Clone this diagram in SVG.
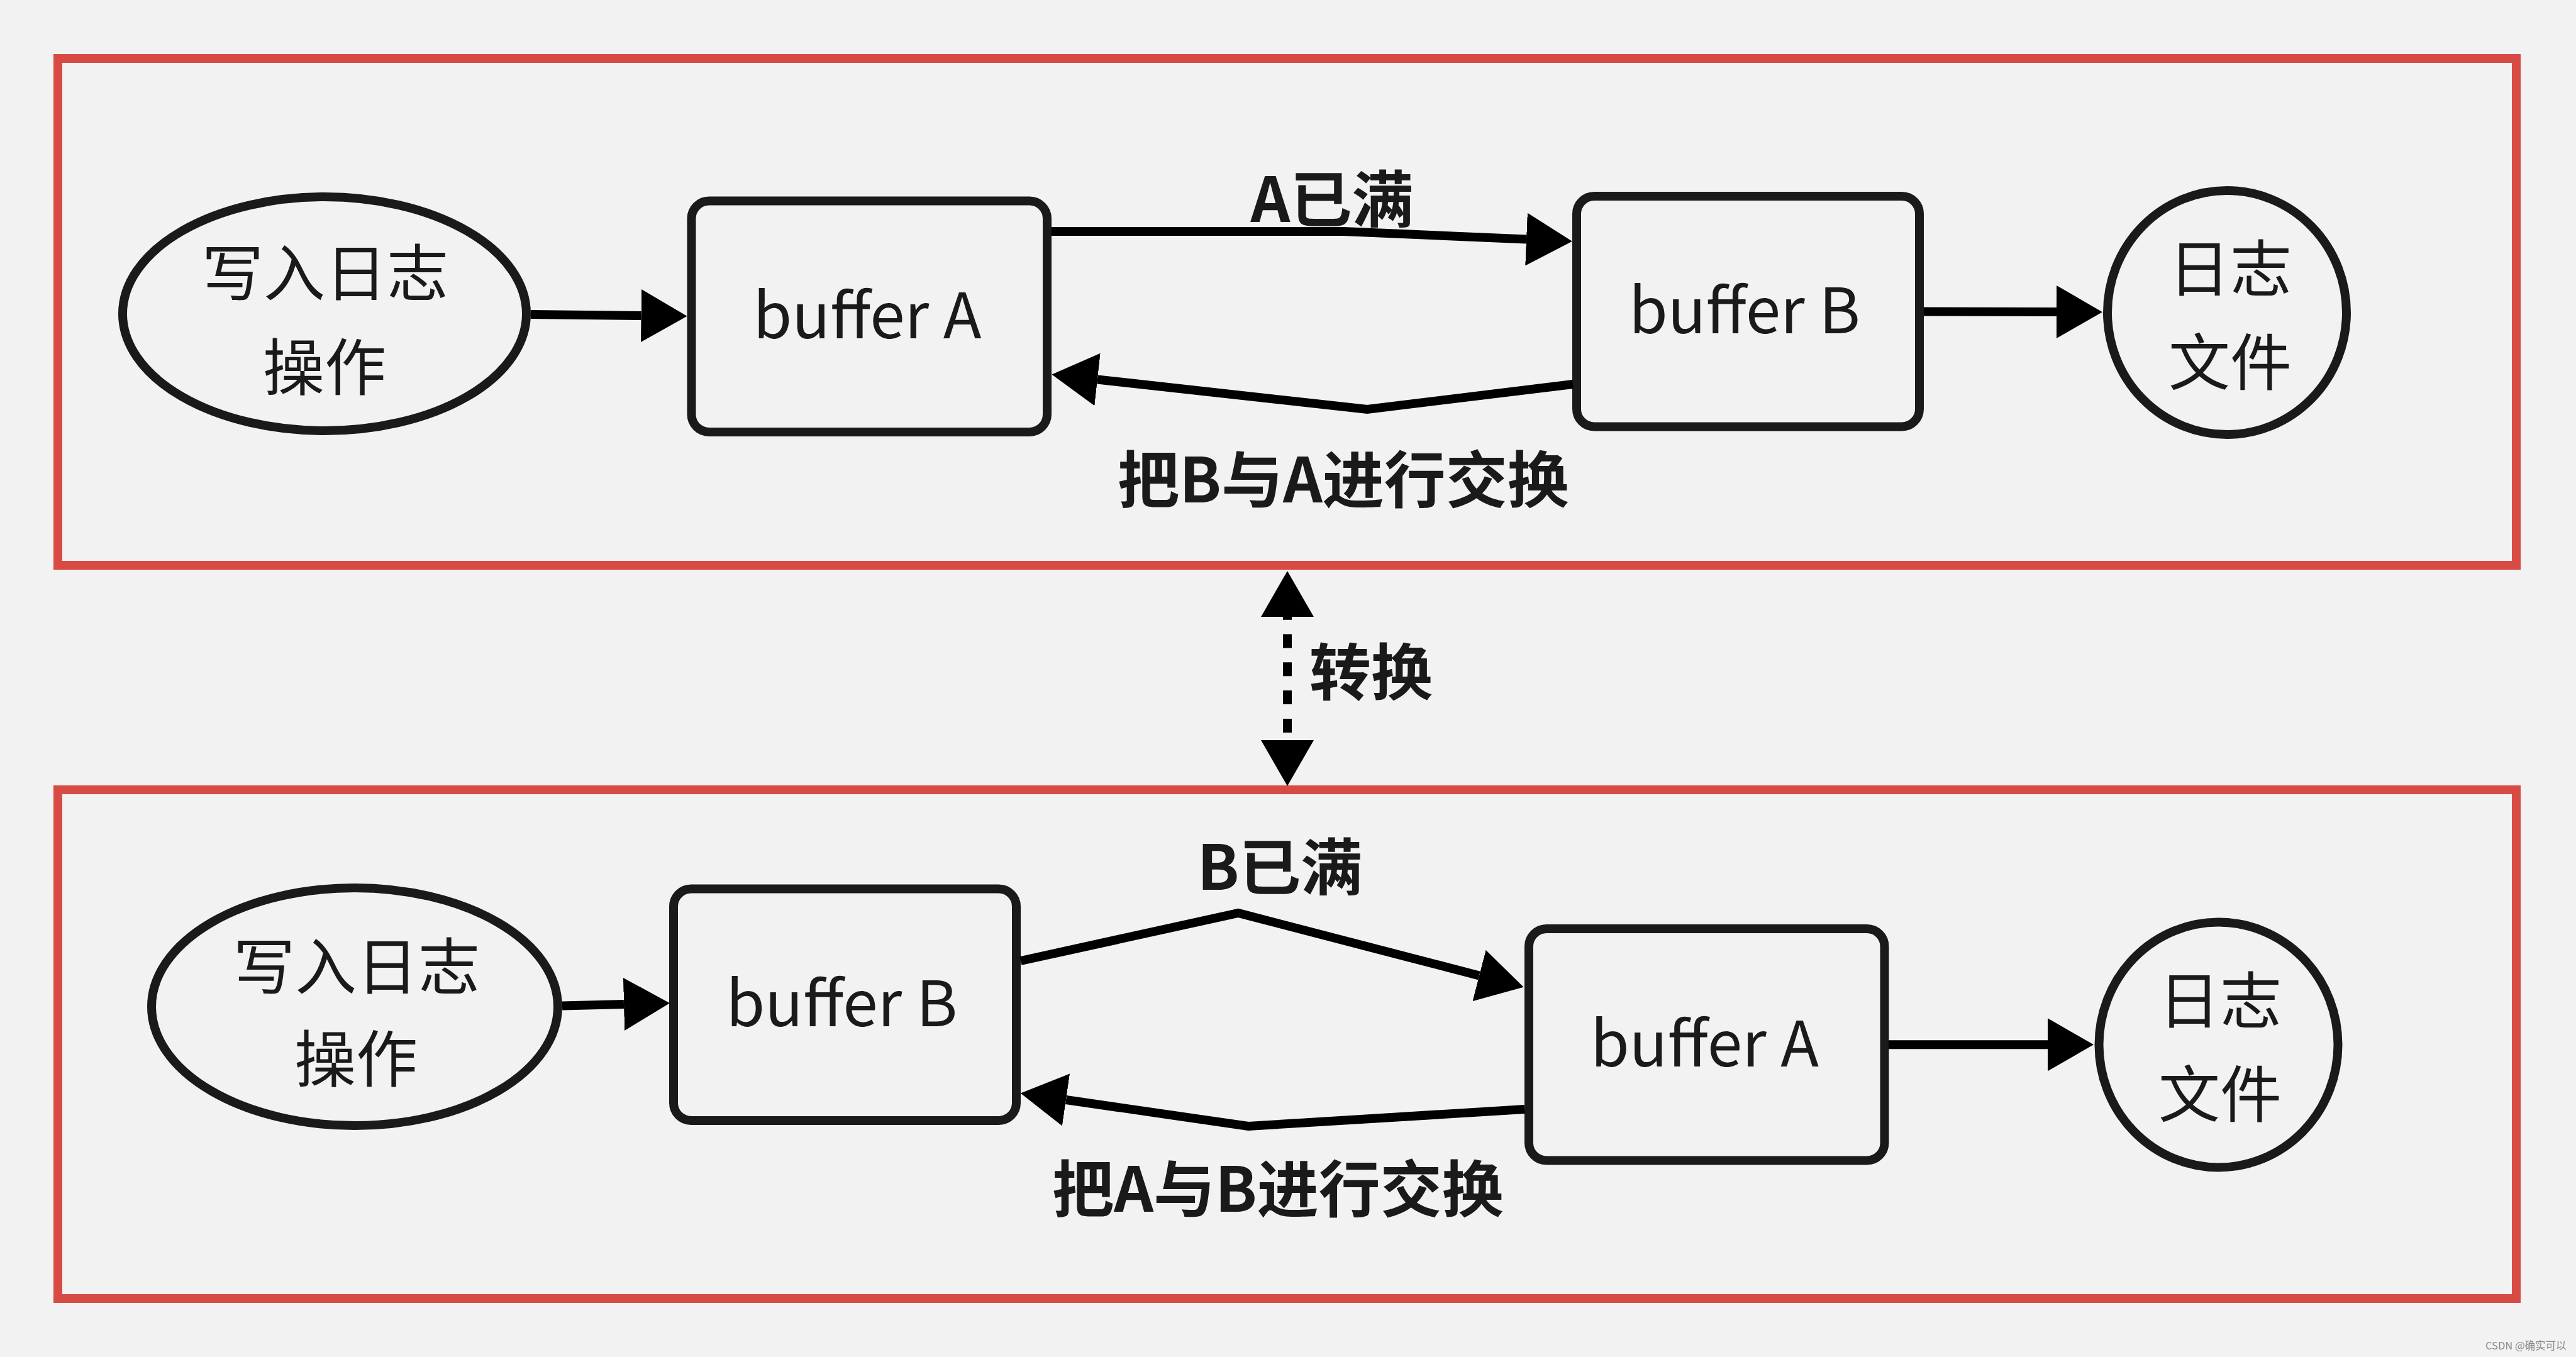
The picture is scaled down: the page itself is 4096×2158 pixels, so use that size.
<svg xmlns="http://www.w3.org/2000/svg" width="4096" height="2158" viewBox="0 0 4096 2158">
  <defs>
    <style>
      .panel { fill: none; stroke: #d84b45; stroke-width: 14; }
      .node { fill: #f2f2f2; stroke: #1a1a1a; stroke-width: 14; }
      .txt { font-family: "Noto Sans CJK SC", "Noto Sans", sans-serif; font-size: 98px; fill: #1a1a1a; text-anchor: middle; }
      .buf { font-size: 100px; }
      .lbl { font-family: "Noto Sans CJK SC", "Noto Sans", sans-serif; font-size: 98px; font-weight: bold; fill: #1a1a1a; text-anchor: middle; }
      .edge { fill: none; stroke: #000; stroke-width: 14; stroke-linejoin: miter; }
      .dash { stroke-dasharray: 22 22.8; stroke-dashoffset: 17.3; }
      .wm { font-family: "Noto Sans CJK SC", "Noto Sans", sans-serif; font-size: 16.5px; fill: #8a8a8a; }
    </style>
    <marker id="arrow" viewBox="0 0 73 84" markerWidth="73" markerHeight="84" refX="0" refY="42" orient="auto-start-reverse" markerUnits="userSpaceOnUse">
      <path d="M0,0 L73,42 L0,84 Z" fill="#000"/>
    </marker>
  </defs>

  <rect x="0" y="0" width="4096" height="2158" fill="#f2f2f2"/>

  <g id="panel-top">
    <rect class="panel" x="92" y="93" width="3909" height="806"/>
  </g>
  <g id="panel-bottom">
    <rect class="panel" x="92" y="1256" width="3909" height="809"/>
  </g>

  <!-- top row nodes -->
  <g id="write-log-top">
    <ellipse class="node" cx="516" cy="499" rx="321" ry="186"/>
    <text class="txt" x="517" y="470">写入日志</text>
    <text class="txt" x="516" y="620">操作</text>
  </g>
  <g id="bufferA-top">
    <rect class="node" x="1099.5" y="319.5" width="565.5" height="367.5" rx="28" ry="28"/>
    <text class="txt buf" x="1379" y="538">buffer A</text>
  </g>
  <g id="bufferB-top">
    <rect class="node" x="2507" y="312" width="545" height="366.5" rx="28" ry="28"/>
    <text class="txt buf" x="2774" y="530">buffer B</text>
  </g>
  <g id="logfile-top">
    <ellipse class="node" cx="3541" cy="497" rx="190" ry="194"/>
    <text class="txt" x="3546" y="463">日志</text>
    <text class="txt" x="3546" y="612">文件</text>
  </g>

  <!-- bottom row nodes -->
  <g id="write-log-bottom">
    <ellipse class="node" cx="564" cy="1601" rx="323" ry="189"/>
    <text class="txt" x="567" y="1573">写入日志</text>
    <text class="txt" x="566" y="1720">操作</text>
  </g>
  <g id="bufferB-bottom">
    <rect class="node" x="1071" y="1413.5" width="545" height="368.5" rx="28" ry="28"/>
    <text class="txt buf" x="1338.5" y="1631.5">buffer B</text>
  </g>
  <g id="bufferA-bottom">
    <rect class="node" x="2431" y="1477" width="565.5" height="368.5" rx="28" ry="28"/>
    <text class="txt buf" x="2710.5" y="1695.5">buffer A</text>
  </g>
  <g id="logfile-bottom">
    <ellipse class="node" cx="3527.5" cy="1661.5" rx="190" ry="195"/>
    <text class="txt" x="3530" y="1627">日志</text>
    <text class="txt" x="3530" y="1776">文件</text>
  </g>

  <!-- connectors -->
  <g id="connectors">
    <path class="edge" d="M844,500 L1019.5,502" marker-end="url(#arrow)"/>
    <path class="edge" d="M1672,368 L2136,368 L2427,380.5" marker-end="url(#arrow)"/>
    <path class="edge" d="M2501,611 L2174,651 L1745,603.5" marker-end="url(#arrow)"/>
    <path class="edge" d="M3059,495.5 L3270,496" marker-end="url(#arrow)"/>

    <path class="edge" d="M894,1599.5 L992,1597" marker-end="url(#arrow)"/>
    <path class="edge" d="M1623,1528 L1969,1452 L2352,1551.5" marker-end="url(#arrow)"/>
    <path class="edge" d="M2424,1764 L1985,1791 L1695,1749" marker-end="url(#arrow)"/>
    <path class="edge" d="M3003,1661.3 L3256,1661.3" marker-end="url(#arrow)"/>

    <path class="edge dash" d="M2047,981 L2047,1177" marker-start="url(#arrow)" marker-end="url(#arrow)"/>
  </g>

  <!-- edge labels -->
  <g id="edge-labels">
    <text class="lbl" x="2118" y="353">A已满</text>
    <text class="lbl" x="2136" y="799">把B与A进行交换</text>
    <text class="lbl" x="2180" y="1105">转换</text>
    <text class="lbl" x="2035" y="1415">B已满</text>
    <text class="lbl" x="2032" y="1927">把A与B进行交换</text>
  </g>

  <text class="wm" x="3952" y="2146">CSDN @确实可以</text>
</svg>
